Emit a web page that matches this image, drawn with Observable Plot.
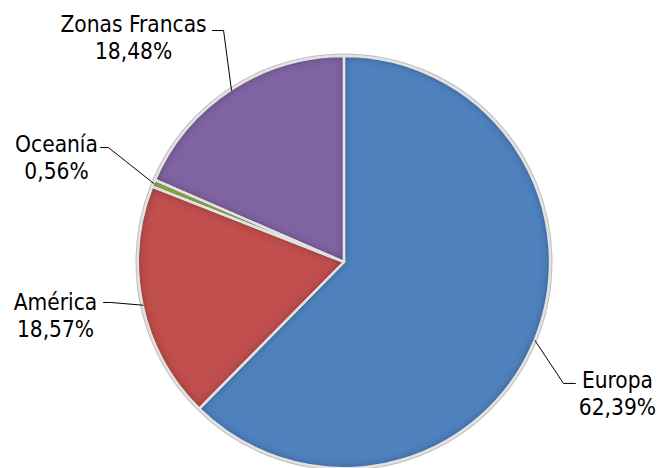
<!DOCTYPE html>
<html>
<head>
<meta charset="utf-8">
<script src="https://cdn.jsdelivr.net/npm/d3@7"></script>
<script src="https://cdn.jsdelivr.net/npm/@observablehq/plot@0.6"></script>
<style>
  html, body { margin: 0; padding: 0; background: #fff; }
  #chart { width: 657px; height: 468px; overflow: hidden; }
</style>
</head>
<body>
<div id="chart"></div>
<script>
// ---- data ----
const categories = ["Europa", "América", "Oceanía", "Zonas Francas"];
const shares = [62.39, 18.57, 0.56, 18.48];
const colors = ["#4F81BD", "#C0504D", "#9BBB59", "#8064A2"];

// label layout (in pie-radius units, centre = 0,0)
const labelPos = [[1.325, -0.632], [-1.403, -0.255], [-1.398, 0.512], [-1.024, 1.097]];
const leaderStub = [[[1.121, -0.587], [1.063, -0.587]], [[-1.170, -0.194], [-1.136, -0.194]],
                    [[-1.184, 0.558], [-1.146, 0.558]], [[-0.641, 1.126], [-0.587, 1.126]]];

const fmt = v => v.toFixed(2).replace(".", ",") + "%";
const slices = categories.map((c, i) => ({category: c, share: shares[i], color: colors[i]}));
const arcs = d3.pie().sort(null).value(d => d.share)(slices);

// leader lines: stub + point on rim at slice mid-angle
const leaders = [];
arcs.forEach((a, i) => {
  const mid = (a.startAngle + a.endAngle) / 2;
  const pts = [...leaderStub[i], [Math.sin(mid), Math.cos(mid)]];
  pts.forEach(p => leaders.push({k: i, x: p[0], y: p[1]}));
});
const labels = slices.map((d, i) => ({x: labelPos[i][0], y: labelPos[i][1], text: d.category + "\n" + fmt(d.share)}));

function pieMark(index, scales, values, dimensions, context) {
  const cx = scales.x(0), cy = scales.y(0), r = scales.x(1) - scales.x(0);
  const svg = d3.create("svg:g");
  const defs = svg.append("defs");
  const f = defs.append("filter").attr("id", "bevel").attr("x", "-5%").attr("y", "-5%").attr("width", "110%").attr("height", "110%");
  f.append("feGaussianBlur").attr("in", "SourceAlpha").attr("stdDeviation", 4.5).attr("result", "blur");
  f.append("feComposite").attr("in", "SourceAlpha").attr("in2", "blur").attr("operator", "out").attr("result", "edge");
  f.append("feFlood").attr("flood-color", "#000").attr("flood-opacity", 0.7).attr("result", "col");
  f.append("feComposite").attr("in", "col").attr("in2", "edge").attr("operator", "in").attr("result", "shadow");
  const m = f.append("feMerge");
  m.append("feMergeNode").attr("in", "SourceGraphic");
  m.append("feMergeNode").attr("in", "shadow");
  const arc = d3.arc().innerRadius(0).outerRadius(r);
  const g = svg.append("g").attr("transform", `translate(${cx},${cy})`);
  g.append("circle").attr("r", r + 1.8).attr("fill", "none").attr("stroke", "#c4c4c4").attr("stroke-width", 1.5);
  g.selectAll("path.fill").data(arcs).join("path")
    .attr("d", arc).attr("fill", d => d.data.color).attr("filter", "url(#bevel)");
  g.selectAll("path.edge").data(arcs).join("path")
    .attr("d", arc).attr("fill", "none").attr("stroke", "#e2e2e2").attr("stroke-width", 2.4)
    .attr("stroke-linejoin", "round");
  return svg.node();
}

const chart = Plot.plot({
  width: 657,
  height: 468,
  margin: 0,
  x: {domain: [-1, 1], range: [138, 550], axis: null},
  y: {domain: [-1, 1], range: [468, 56], axis: null},
  style: {background: "#fff"},
  marks: [
    pieMark,
    Plot.line(leaders, {x: "x", y: "y", z: "k", stroke: "#000", strokeWidth: 1}),
    Plot.text(labels, {x: "x", y: "y", text: "text", fontSize: 22.5, lineHeight: 1.2, fill: "#000",
      fontFamily: "'DejaVu Sans Condensed', 'DejaVu Sans', sans-serif", textAnchor: "middle"})
  ]
});
document.getElementById("chart").appendChild(chart);
</script>
</body>
</html>
